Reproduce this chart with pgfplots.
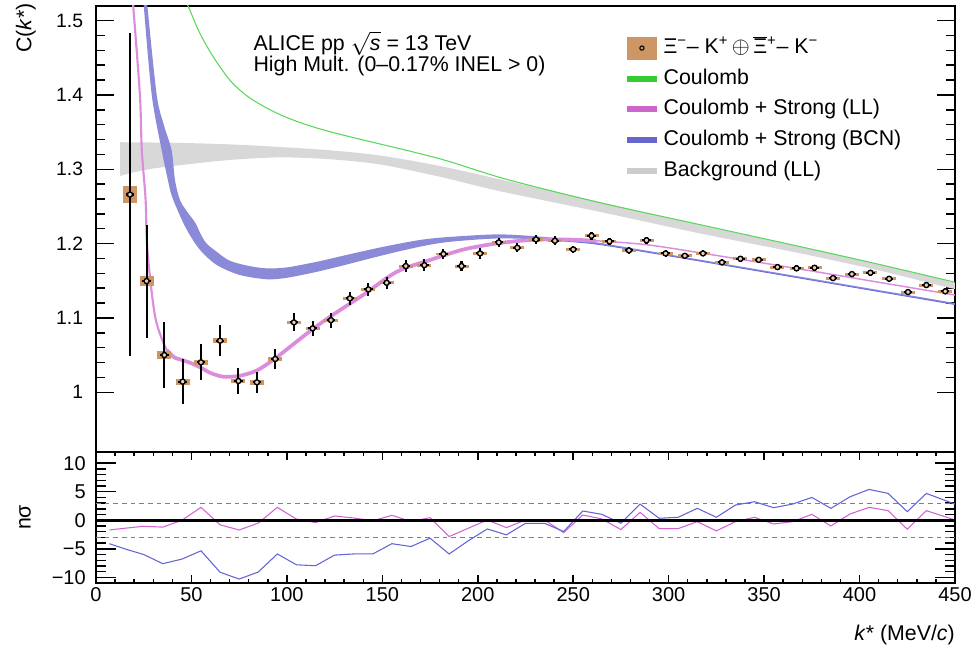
\documentclass[border=0pt]{standalone}
\usepackage{pgfplots}
\pgfplotsset{compat=1.18}
\usepackage{pgfplotstable}
\usepackage{fontspec}
\setmainfont{Liberation Sans}

\definecolor{sysc}{RGB}{205,150,100}
\definecolor{coul}{RGB}{90,215,90}
\definecolor{coulleg}{RGB}{51,204,51}
\definecolor{llband}{RGB}{220,140,220}
\definecolor{llleg}{RGB}{204,102,204}
\definecolor{bcnband}{RGB}{138,138,216}
\definecolor{bcnline}{RGB}{110,110,220}
\definecolor{bcnleg}{RGB}{102,102,204}
\definecolor{bkgband}{RGB}{216,216,216}
\definecolor{bkgleg}{RGB}{204,204,204}
\definecolor{resll}{RGB}{210,100,210}
\definecolor{resbcn}{RGB}{100,100,215}

% data: k*, C, stat, syst
\pgfplotstableread{
k C stat sys
17.8 1.266 0.217 0.011
26.5 1.1496 0.076 0.007
35.8 1.050 0.044 0.005
45.4 1.0143 0.030 0.004
55.0 1.0403 0.024 0.003
65.0 1.0694 0.021 0.003
74.6 1.0152 0.017 0.003
84.3 1.0134 0.014 0.003
93.9 1.0448 0.0135 0.003
103.7 1.094 0.012 0.002
113.5 1.086 0.010 0.002
123.1 1.097 0.010 0.002
133.0 1.1263 0.009 0.002
142.7 1.1384 0.009 0.002
152.3 1.1473 0.008 0.002
162.3 1.1698 0.008 0.002
172.0 1.171 0.008 0.002
182.0 1.186 0.007 0.002
191.5 1.1698 0.007 0.002
201.2 1.1868 0.007 0.002
211.0 1.2016 0.006 0.002
220.7 1.1944 0.006 0.002
230.5 1.2056 0.006 0.002
240.4 1.2038 0.006 0.002
250.0 1.1922 0.005 0.002
259.6 1.2105 0.005 0.002
269.0 1.203 0.005 0.002
279.2 1.1909 0.005 0.002
288.4 1.2045 0.005 0.002
298.4 1.1868 0.005 0.002
308.5 1.1836 0.004 0.002
318.0 1.1868 0.004 0.002
327.9 1.1747 0.004 0.002
337.6 1.1796 0.004 0.002
347.2 1.1782 0.004 0.002
357.0 1.1684 0.004 0.002
367.0 1.1667 0.004 0.002
376.4 1.1675 0.004 0.002
386.1 1.1536 0.004 0.002
396.0 1.159 0.004 0.002
405.7 1.1608 0.004 0.002
415.5 1.1527 0.004 0.002
425.4 1.1348 0.004 0.002
435.0 1.1442 0.004 0.002
444.9 1.1358 0.004 0.002
}\cfdata

% residuals (n sigma)
\pgfplotstableread{
k ll bcn
7 -1.7 -4.1
15 -1.4 -5.0
25 -1.05 -6.0
35 -1.2 -7.6
45 0.0 -6.8
55 2.26 -5.35
65 -0.8 -9.1
75 -1.7 -10.3
85 -0.5 -9.06
95 2.26 -5.9
105 0.2 -7.8
115 -0.4 -7.96
125 0.75 -6.1
135 0.4 -5.9
145 -0.1 -5.9
155 0.87 -4.1
165 -0.2 -4.6
175 0.45 -3.14
185 -2.85 -5.9
195 -1.4 -3.6
205 0.05 -1.52
215 -1.29 -2.56
225 0.05 -0.53
235 0.05 -0.53
245 -2.16 -1.98
255 0.92 1.62
265 0.23 1.04
275 -1.63 -0.53
285 1.39 2.84
295 -1.46 0.35
305 -1.46 0.52
315 -0.24 2.09
325 -1.86 0.52
335 -0.24 2.67
345 0.52 3.25
355 -0.65 2.2
365 -0.24 2.84
375 1.04 4.0
385 -1.0 2.09
395 1.1 4.11
405 2.26 5.4
415 1.68 4.7
425 -1.57 1.5
435 1.68 4.7
445 0.6 3.45
455 -0.5 2.2
}\resdata

\pgfplotstableread{
k C
46.0 1.533
48.4 1.5187
54.5 1.4825
61.5 1.451
70.2 1.4197
78.9 1.399
87.6 1.385
96.4 1.3735
105.1 1.3645
113.8 1.357
122.6 1.3505
135 1.3425
148.8 1.3340
165 1.3240
183.7 1.3115
211.6 1.2890
240 1.2700
270 1.2515
316.4 1.2255
368.8 1.1960
410 1.1722
450 1.1480
}\coulomb

% background band outline: upper edge, then lower edge backwards
\pgfplotstableread{
k C
12.6 1.3364
30 1.3360
44 1.3355
70 1.3335
96.4 1.3300
122.6 1.3255
148.8 1.3185
180 1.3045
211.6 1.2865
264 1.2560
316.4 1.2250
368.8 1.1960
410 1.1720
450 1.1470
450 1.1390
410 1.1640
368.8 1.1870
316.4 1.2137
264 1.2427
211.6 1.2705
180 1.2900
148.8 1.3065
122.6 1.3135
96.4 1.3160
70 1.3125
44 1.3055
30 1.3010
20 1.2960
12.6 1.2910
}\bkgband

% BCN band outline: upper edge, then lower edge backwards
\pgfplotstableread{
k C
26.4 1.535
26.9 1.52
31.8 1.40
35.5 1.36
39.6 1.3257
41.4 1.285
44 1.2585
48 1.242
52 1.228
55 1.212
58 1.200
63.2 1.189
70 1.177
80 1.170
89.4 1.1667
100 1.168
115.6 1.1755
130 1.184
150.5 1.1957
170 1.205
185.4 1.209
211.6 1.2124
237.8 1.2083
260 1.2025
285 1.192
330 1.1725
370 1.155
410 1.1375
450 1.120
450 1.118
410 1.1355
370 1.153
330 1.1705
285 1.190
260 1.200
237.8 1.2047
211.6 1.207
185.4 1.2024
170 1.196
150.5 1.1845
130 1.171
115.6 1.162
100 1.154
89.4 1.152
75 1.158
63.2 1.1713
55 1.190
50 1.208
45.6 1.2286
40 1.262
37.7 1.285
34.4 1.3257
29.2 1.40
25.0 1.52
24.6 1.535
}\bcnband

\pgfplotstableread{
k C
237.8 1.2047
260 1.200
285 1.190
330 1.1705
370 1.153
410 1.1355
450 1.118
}\bcnedge

\pgfplotstableread{
k C
19.2 1.535
19.5 1.52
23 1.40
24 1.3257
26 1.2585
26.9 1.192
31 1.1016
37 1.057
41 1.047
45.6 1.043
}\llsteep
\pgfplotstableread{
k C
37 1.057
41 1.047
45.6 1.043
50 1.039
55 1.033
60 1.026
66.6 1.021
75 1.022
84 1.029
92 1.042
101.6 1.061
112 1.082
122.6 1.1016
140 1.131
157.5 1.162
175 1.178
192.4 1.192
210 1.2003
227.3 1.2047
244.8 1.2056
262 1.2038
}\llthick
\pgfplotstableread{
k C
244.8 1.2056
262 1.2038
290 1.198
330 1.182
372 1.1644
410 1.148
450 1.1308
}\llthin

\begin{document}
\begin{tikzpicture}
\useasboundingbox (-72pt,4.3pt) rectangle (660pt,-484pt);
\pgfplotsset{
  every axis/.append style={
    scale only axis, width=644.25pt, xmin=0, xmax=450,
    axis line style={line width=1.2pt},
    every tick/.style={black, line width=1.1pt},
    tick align=inside,
    /pgf/number format/assume math mode=true,
  },
}
% upper panel
\begin{axis}[
  at={(0pt,0pt)}, anchor=north west,
  height=334.5pt,
  ymin=0.92, ymax=1.52,
  xtick=\empty,
  ytick={1,1.1,1.2,1.3,1.4,1.5},
  minor y tick num=4,
  major tick length=13.5pt, minor tick length=6.75pt,
  yticklabel style={font=\fontsize{14.5}{17}\selectfont, inner sep=0pt, xshift=-9.5pt},
  ylabel={C(\textit{k}*)},
  ylabel style={at={(axis description cs:0,1)}, anchor=south east,
    inner sep=0pt, yshift=45pt, xshift=2pt, font=\fontsize{16}{19}\selectfont},
  legend style={at={(rel axis cs:0.6147,0.9314)}, anchor=north west,
    draw=none, fill=none, inner sep=0pt, row sep=5.8pt,
    font=\fontsize{16}{19}\selectfont,
    nodes={inner sep=0pt, text height=12pt, text depth=4pt},
    /tikz/every odd column/.append style={column sep=3pt}},
  legend cell align=left,
]
\addlegendimage{legend image code/.code={
  \fill[sysc, draw=none] (0pt,-8.6pt) rectangle (22pt,8.6pt);
  \draw[black, line width=0.8pt, fill=none] (11pt,0pt) circle (1.6pt);}}
\addlegendentry{Ξ\textsuperscript{−}– K\textsuperscript{+}\,$\oplus$\,$\overline{\mbox{Ξ}}$\textsuperscript{+}– K\textsuperscript{−}}
\addlegendimage{legend image code/.code={
  \path[draw=none, fill=none] (0pt,-8.6pt) rectangle (22pt,8.6pt);
  \draw[coulleg, line width=4.5pt] (0pt,0pt) -- (22pt,0pt);}}
\addlegendentry{Coulomb}
\addlegendimage{legend image code/.code={
  \path[draw=none, fill=none] (0pt,-8.6pt) rectangle (22pt,8.6pt);
  \draw[llleg, line width=4.5pt] (0pt,0pt) -- (22pt,0pt);}}
\addlegendentry{Coulomb + Strong (LL)}
\addlegendimage{legend image code/.code={
  \path[draw=none, fill=none] (0pt,-8.6pt) rectangle (22pt,8.6pt);
  \draw[bcnleg, line width=4.5pt] (0pt,0pt) -- (22pt,0pt);}}
\addlegendentry{Coulomb + Strong (BCN)}
\addlegendimage{legend image code/.code={
  \path[draw=none, fill=none] (0pt,-8.6pt) rectangle (22pt,8.6pt);
  \draw[bkgleg, line width=4.5pt] (0pt,0pt) -- (22pt,0pt);}}
\addlegendentry{Background (LL)}

% background band
\addplot[fill=bkgband, draw=none, smooth, forget plot] table[x=k, y=C] {\bkgband} -- cycle;
% Coulomb
\addplot[coul, line width=0.8pt, smooth, forget plot] table[x=k, y=C] {\coulomb};
% BCN band
\addplot[fill=bcnband, draw=none, smooth, forget plot] table[x=k, y=C] {\bcnband} -- cycle;
\addplot[bcnline, line width=0.6pt, smooth, forget plot] table[x=k, y=C] {\bcnedge};
% LL band
\addplot[llband, line width=1.6pt, smooth, forget plot] table[x=k, y=C] {\llsteep};
\addplot[llband, line width=2.8pt, smooth, forget plot] table[x=k, y=C] {\llthick};
\addplot[llband, line width=1.1pt, smooth, forget plot] table[x=k, y=C] {\llthin};
% systematic boxes
\addplot[only marks, mark=none, forget plot,
  error bars/.cd, y dir=both, y explicit, error mark=none,
  error bar style={line width=10.5pt, sysc}]
  table[x=k, y=C, y error=sys] {\cfdata};
% data with statistical errors
\addplot[only marks, mark=*, mark size=1.9pt, forget plot,
  mark options={fill=sysc!45!white, draw=black, line width=1pt},
  error bars/.cd, y dir=both, y explicit, x dir=both, x fixed=2.2,
  error mark=none, error bar style={line width=1.6pt, black}]
  table[x=k, y=C, y error=stat] {\cfdata};

\node[anchor=base west, inner sep=0pt, font=\fontsize{16}{19}\selectfont]
  at (rel axis cs:0.1831,0.9007) {ALICE pp $\sqrt{\textit{s}}$ = 13 TeV};
\node[anchor=base west, inner sep=0pt, font=\fontsize{16}{19}\selectfont]
  at (rel axis cs:0.1831,0.852) {High Mult. (0–0.17\% INEL > 0)};
\end{axis}

% lower panel
\begin{axis}[
  at={(0pt,-334.5pt)}, anchor=north west,
  height=98.5pt,
  ymin=-11, ymax=12,
  xtick={0,50,...,450},
  minor x tick num=4,
  ytick={-10,-5,0,5,10},
  yticklabels={−10,−5,0,5,10},
  minor y tick num=4,
  major tick length=15pt, minor tick length=7.5pt,
  xtick style={/pgfplots/major tick length=6pt, /pgfplots/minor tick length=3pt},
  ticklabel style={font=\fontsize{15}{18}\selectfont, inner sep=0pt},
  yticklabel style={xshift=-7.5pt},
  xticklabel style={yshift=-3.5pt},
  xlabel={\textit{k}* (MeV/\textit{c})},
  xlabel style={at={(axis description cs:1,0)}, anchor=north east,
    inner sep=0pt, yshift=-31pt, font=\fontsize{16}{19}\selectfont},
  ylabel={nσ},
  ylabel style={at={(axis description cs:0,0.5)}, anchor=south,
    inner sep=0pt, yshift=48.75pt, font=\fontsize{16}{19}\selectfont},
]
\addplot[gray, line width=0.7pt, dash pattern=on 3.5pt off 3pt] coordinates {(0,3) (450,3)};
\addplot[gray, line width=0.7pt, dash pattern=on 3.5pt off 3pt] coordinates {(0,-3) (450,-3)};
\addplot[resll, line width=0.8pt] table[x=k, y=ll] {\resdata};
\addplot[resbcn, line width=0.8pt] table[x=k, y=bcn] {\resdata};
\addplot[black, line width=2.2pt] coordinates {(0,0) (450,0)};
\end{axis}
\end{tikzpicture}
\end{document}
